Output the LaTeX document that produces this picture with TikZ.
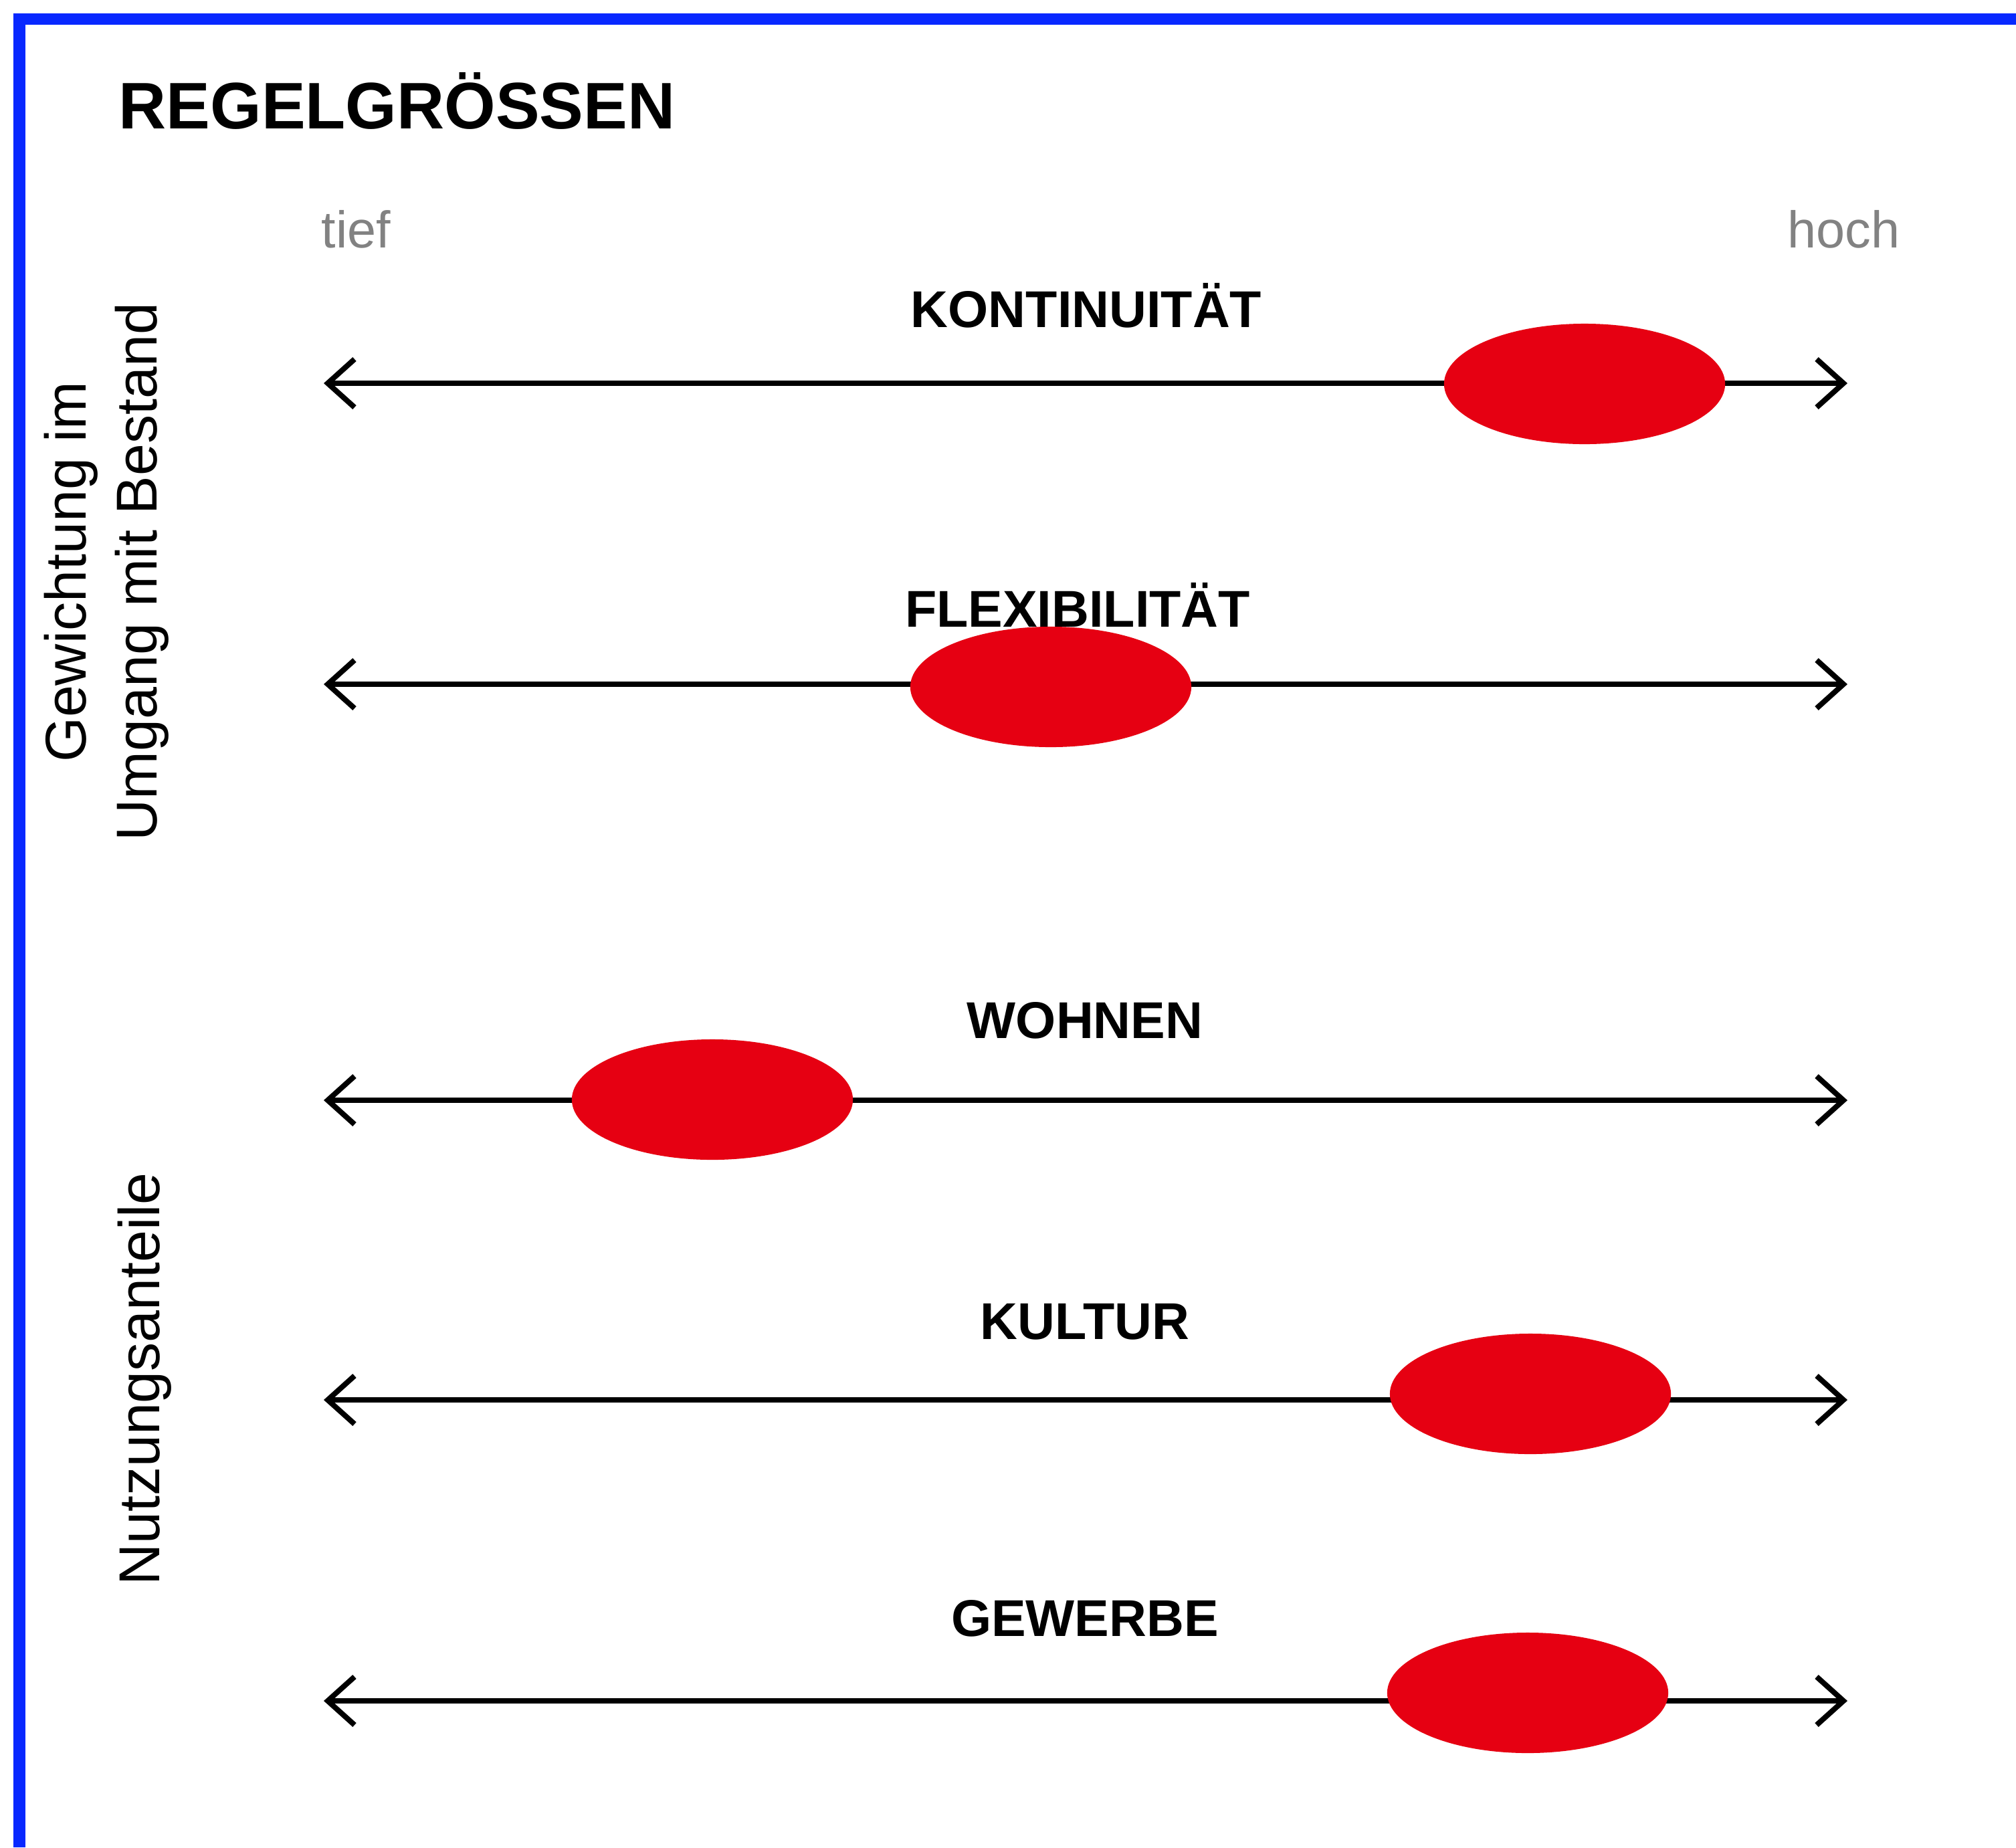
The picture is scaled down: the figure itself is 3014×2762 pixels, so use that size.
\documentclass[tikz,border=0pt]{standalone}
\usepackage{fontspec}
\setmainfont{Liberation Sans}
\usetikzlibrary{arrows.meta,shapes.geometric}
\definecolor{frameblue}{RGB}{8,40,255}
\definecolor{dotred}{RGB}{230,0,18}
\definecolor{scalegray}{RGB}{130,130,130}
\tikzset{
  scaleline/.style={line width=0.08cm, {Straight Barb[length=4mm,width=7.2mm]}-{Straight Barb[length=4mm,width=7.2mm]}},
  dot/.style={ellipse, fill=dotred, draw=none, minimum width=4.2cm, minimum height=1.8cm, inner sep=0pt},
  cat/.style={font=\fontsize{22}{26}\selectfont\bfseries, anchor=base, inner sep=0pt},
  side/.style={font=\fontsize{24.5}{30}\selectfont, rotate=90, align=center, inner sep=0pt},
  ends/.style={font=\fontsize{22}{26}\selectfont, text=scalegray, inner sep=0pt}
}
\begin{document}
\begin{tikzpicture}[x=0.01cm,y=-0.01cm]
\useasboundingbox (0,0) rectangle (3014,2762);
\fill[white] (0,0) rectangle (3014,2762);
% frame
\draw[frameblue, line width=0.17cm] (29,2762) -- (29,28) -- (3014,28);
% title
\node[font=\fontsize{28}{32}\selectfont\bfseries, anchor=base west, inner sep=0pt] (title) at (177,192) {REGELGRÖSSEN};
% ends
\node[ends, anchor=base west] (tief) at (480,370) {tief};
\node[ends, anchor=base east] (hoch) at (2841,370) {hoch};
% side labels
\node[side] (gew) at (159,855) {Gewichtung im\\Umgang mit Bestand};
\node[side] (nutz) at (216,2062) {Nutzungsanteile};
% category labels
\node[cat] (kont) at (1624,489) {KONTINUITÄT};
\node[cat] (flex) at (1611,937) {FLEXIBILITÄT};
\node[cat] (wohn) at (1622,1552) {WOHNEN};
\node[cat] (kult) at (1622,2002) {KULTUR};
\node[cat] (gewe) at (1622,2446) {GEWERBE};
% scale lines
\coordinate (a1) at (484,573);  \coordinate (b1) at (2762,573);
\coordinate (a2) at (484,1023); \coordinate (b2) at (2762,1023);
\coordinate (a3) at (484,1645); \coordinate (b3) at (2762,1645);
\coordinate (a4) at (484,2093); \coordinate (b4) at (2762,2093);
\coordinate (a5) at (484,2543); \coordinate (b5) at (2762,2543);
\draw[scaleline] (a1) -- (b1);
\draw[scaleline] (a2) -- (b2);
\draw[scaleline] (a3) -- (b3);
\draw[scaleline] (a4) -- (b4);
\draw[scaleline] (a5) -- (b5);
% dots
\node[dot] (d1) at (2369,574) {};
\node[dot] (d2) at (1571,1027) {};
\node[dot] (d3) at (1065,1644) {};
\node[dot] (d4) at (2288,2084) {};
\node[dot] (d5) at (2284,2531) {};
\end{tikzpicture}
\end{document}
